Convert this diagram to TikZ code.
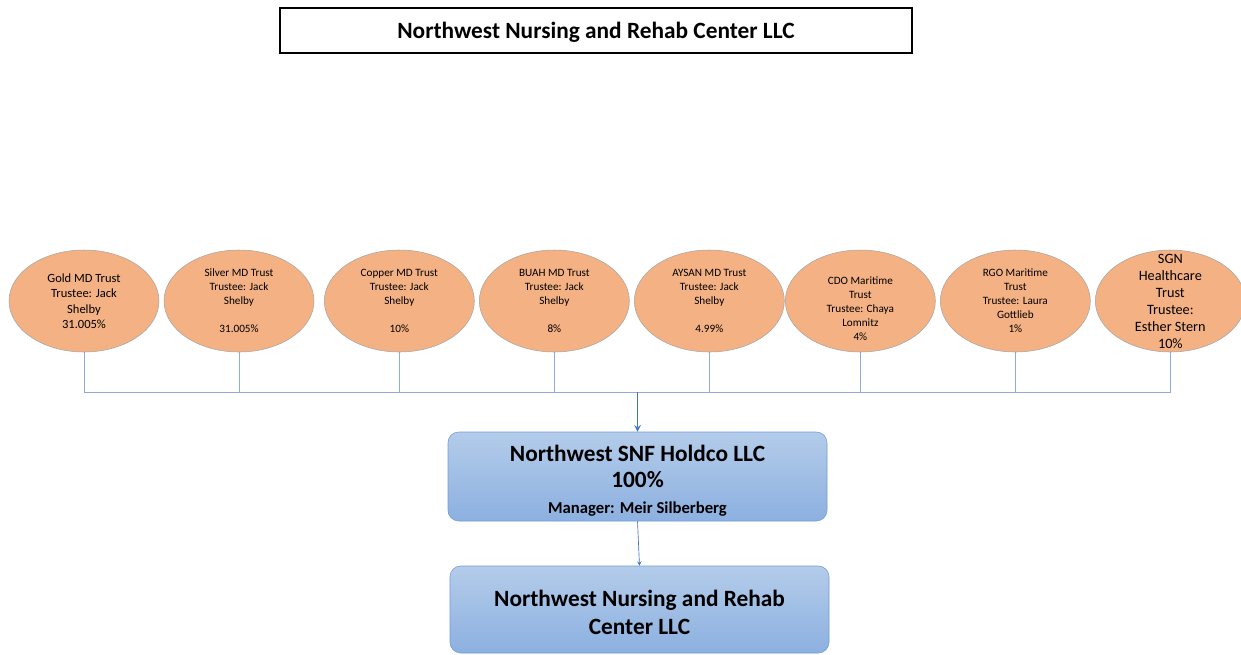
\documentclass[tikz,border=0pt]{standalone}
\usepackage{fontspec}
\setmainfont{Carlito}
\usetikzlibrary{positioning,shapes.geometric}
\definecolor{trustfill}{HTML}{F4B183}
\definecolor{trustline}{HTML}{A6A6A6}
\definecolor{boxtop}{HTML}{B4CCEA}
\definecolor{boxbottom}{HTML}{8CB0E0}
\definecolor{boxline}{HTML}{6F9BD6}
\definecolor{linkblue}{HTML}{4472C4}
\definecolor{buslight}{HTML}{8FAADC}

\begin{document}
\begin{tikzpicture}[
        x=0.75pt, y=-0.75pt,
        node distance=116.25pt,
        trust/.style={ellipse, draw=trustline, fill=trustfill, minimum width=112.5pt, minimum height=76.5pt, inner sep=0pt, align=center, font=\fontsize{8.4}{10.5}\selectfont},
        bigtrust/.style={trust, font=\fontsize{9.4}{11.6}\selectfont},
        company/.style={rectangle, rounded corners=8pt, draw=boxline, top color=boxtop, bottom color=boxbottom, minimum width=284.25pt, inner ysep=0pt, align=center, font=\bfseries\fontsize{17.5}{19.5}\selectfont},
        bus/.style={draw=buslight, line width=0.75pt},
        arrow/.style={draw=linkblue, line width=1.2pt, ->, >=stealth}
    ]
        \useasboundingbox (0,0) rectangle (1241,654);

        \node (title) [draw=black, line width=1.5pt, minimum width=474pt, minimum height=33.75pt, text depth=0pt, font=\bfseries\fontsize{17.5}{20}\selectfont] at (596,30.5) {Northwest Nursing and Rehab Center LLC};

        \node (1) [bigtrust] at (84,301) {Gold MD Trust\\Trustee: Jack\\Shelby\\31.005\%};
        \node (2) [trust, right of=1] {Silver MD Trust\\Trustee: Jack\\Shelby\\[10.5pt]31.005\%};
        \node (3) [trust, right of=2, xshift=4pt] {Copper MD Trust\\Trustee: Jack\\Shelby\\[10.5pt]10\%};
        \node (4) [trust, right of=3] {BUAH MD Trust\\Trustee: Jack\\Shelby\\[10.5pt]8\%};
        \node (5) [trust, right of=4] {AYSAN MD Trust\\Trustee: Jack\\Shelby\\[10.5pt]4.99\%};
        \node (6) [trust, right of=5, xshift=-3pt, inner ysep=-6pt] {\rule{0pt}{16.8pt}CDO Maritime\\Trust\\Trustee: Chaya\\Lomnitz\\4\%};
        \node (7) [trust, right of=6] {RGO Maritime\\Trust\\Trustee: Laura\\Gottlieb\\1\%};
        \node (8) [bigtrust, right of=7, inner ysep=-12pt, font=\fontsize{10.7}{12.75}\selectfont] {SGN\\Healthcare\\Trust\\Trustee:\\Esther Stern\\10\%};

        \node (holdco) [company, minimum height=66.75pt] at (637.5,476.5) {\rule{0pt}{19pt}Northwest SNF Holdco LLC\\100\%\\{\fontsize{12.5}{19.5}\selectfont Manager: Meir Silberberg}};
        \node (nnrc) [company, minimum height=65.25pt, font=\bfseries\fontsize{17.5}{21}\selectfont] at (639.5,609.5) {\rule{0pt}{16pt}Northwest Nursing and Rehab\\Center LLC};

        \coordinate (hub) at (637.5,392);
        \draw[bus] (1.south) |- (hub);
        \draw[bus] (2.south) |- (hub);
        \draw[bus] (3.south) |- (hub);
        \draw[bus] (4.south) |- (hub);
        \draw[bus] (5.south) |- (hub);
        \draw[bus] (6.south) |- (hub);
        \draw[bus] (7.south) |- (hub);
        \draw[bus] (8.south) |- (hub);

        \draw[arrow] (hub) -- (holdco.north);
        \draw[arrow, line width=0.5pt] (holdco.south) -- (nnrc.north);
    \end{tikzpicture}
\end{document}
